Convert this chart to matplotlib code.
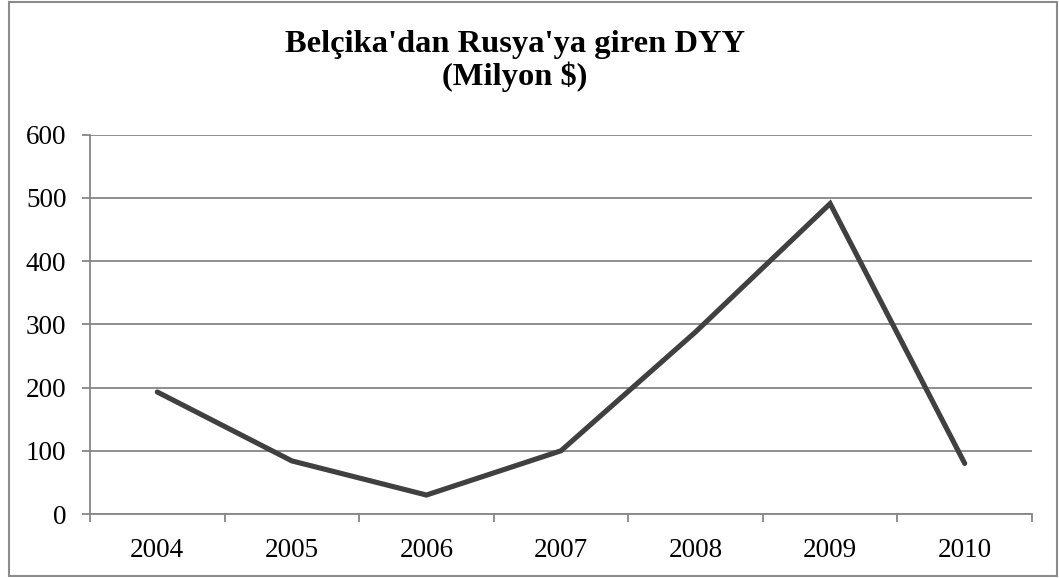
import matplotlib
matplotlib.use("Agg")
import matplotlib.pyplot as plt
from matplotlib.patches import Rectangle
from matplotlib.ticker import FixedLocator

years = ["2004", "2005", "2006", "2007", "2008", "2009", "2010"]
values = [193, 84, 30, 100, 288, 491, 80]
yticks = [0, 100, 200, 300, 400, 500, 600]
title = "Belçika'dan Rusya'ya giren DYY\n(Milyon $)"

plt.rcParams['font.family'] = ['Liberation Serif', 'DejaVu Serif']

W, H = 1059, 578
fig = plt.figure(figsize=(W / 100, H / 100), dpi=100)
fig.patch.set_facecolor("white")

# outer border
fig.patches.append(Rectangle((9 / W, 2 / H), (W - 11) / W, (H - 4) / H,
                             transform=fig.transFigure, fill=False,
                             edgecolor="#8c8c8c", linewidth=1.5))

ax = fig.add_axes([90 / W, 1 - 514 / H, (1032 - 90) / W, (514 - 134.7) / H])
x = list(range(len(years)))
ax.plot(x, values, color="#404040", linewidth=3.7, solid_joinstyle="miter",
        solid_capstyle="round", zorder=3)

ax.set_xlim(-0.5, len(years) - 0.5)
ax.set_ylim(0, 600)
ax.set_yticks(yticks)
ax.set_yticklabels([str(t) for t in yticks])
ax.yaxis.grid(True, color="#868686", linewidth=1.3)
ax.set_axisbelow(True)

ax.set_xticks(x)
ax.set_xticklabels(years)
ax.xaxis.set_minor_locator(FixedLocator([i - 0.5 for i in range(len(years) + 1)]))
ax.tick_params(axis="x", which="major", length=0, pad=17, labelsize=19.5)
ax.tick_params(axis="x", which="minor", length=6, width=1.3, color="#868686", direction="out")
ax.tick_params(axis="y", length=6, width=1.3, color="#868686", pad=11, labelsize=19.5)

for s in ["top", "right"]:
    ax.spines[s].set_visible(False)
for s in ["left", "bottom"]:
    ax.spines[s].set_color("#868686")
    ax.spines[s].set_linewidth(1.3)

fig.text(515 / W, 1 - 61 / H, title, ha="center", va="center",
         fontsize=23.4, fontweight="bold", linespacing=1.13)

fig.savefig("out.png", dpi=100, facecolor="white")
